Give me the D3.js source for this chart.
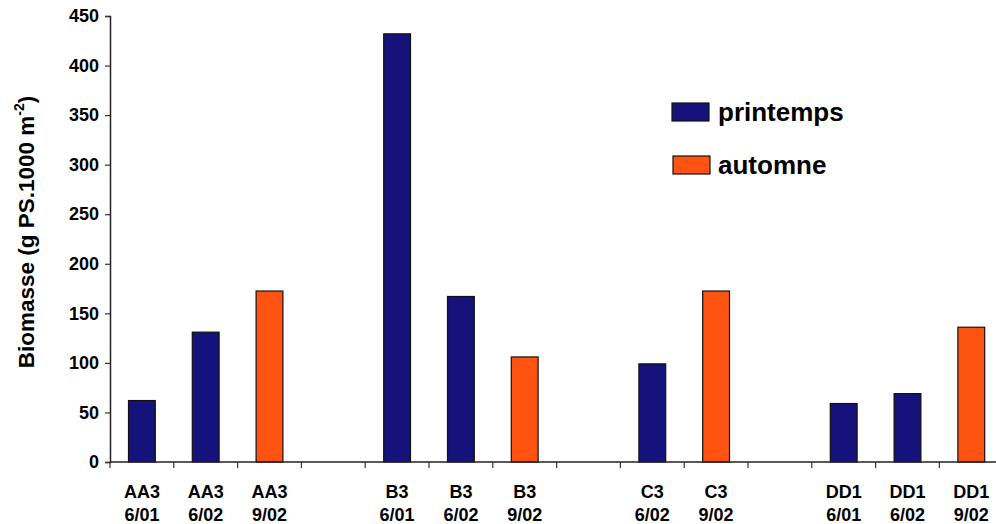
<!DOCTYPE html>
<html>
<head>
<meta charset="utf-8">
<script src="https://cdn.jsdelivr.net/npm/d3@7"></script>
<style>
  html, body { margin: 0; padding: 0; background: #fff; }
  svg { display: block; font-family: "Liberation Sans", Arial, sans-serif; }
</style>
</head>
<body>
<svg id="chart" width="996" height="524"></svg>
<script>
// ---- data ----
const sites  = ["AA3", "AA3", "AA3", "", "B3", "B3", "B3", "", "C3", "C3", "", "DD1", "DD1", "DD1"];
const dates  = ["6/01", "6/02", "9/02", "", "6/01", "6/02", "9/02", "", "6/02", "9/02", "", "6/01", "6/02", "9/02"];
const seasons = ["printemps", "printemps", "automne", null, "printemps", "printemps", "automne", null, "printemps", "automne", null, "printemps", "printemps", "automne"];
const values = [62, 131, 172.5, null, 432, 167, 106, null, 99, 172.5, null, 59, 69, 136];
const yTicks = [0, 50, 100, 150, 200, 250, 300, 350, 400, 450];
const legendLabels = ["printemps", "automne"];
const colors = { printemps: "#15127C", automne: "#FF5311" };

// ---- layout ----
const svg = d3.select("#chart");
const x0 = 110, slotW = 63.8;
const idx = d3.range(sites.length);
const x = d3.scaleBand().domain(idx).range([x0, x0 + slotW * idx.length]).padding(0);
const y = d3.scaleLinear().domain([0, 450]).range([462, 16]);
const barW = x.bandwidth() * 0.42;

// bars
svg.append("g").selectAll("rect")
  .data(idx.filter(i => values[i] != null))
  .join("rect")
  .attr("x", i => x(i) + (x.bandwidth() - barW) / 2)
  .attr("y", i => y(values[i]))
  .attr("width", barW)
  .attr("height", i => y(0) - y(values[i]))
  .attr("fill", i => colors[seasons[i]])
  .attr("stroke", "#111")
  .attr("stroke-width", 1.2);

// y axis
const yAxis = d3.axisLeft(y).tickValues(yTicks).tickSize(5).tickPadding(6).tickFormat(d3.format("d"));
const gy = svg.append("g").attr("transform", `translate(${x0},0)`).call(yAxis);
gy.select(".domain").attr("stroke", "#222").attr("stroke-width", 1.5);
gy.selectAll(".tick line").attr("stroke", "#333").attr("stroke-width", 1.2);
gy.selectAll(".tick text").attr("font-size", 18).attr("font-weight", "bold").attr("fill", "#000")
  .attr("font-family", "Liberation Sans, Arial, sans-serif");

// x axis (boundary ticks)
const xEdge = d3.scaleLinear().domain([0, idx.length]).range([x0, x0 + slotW * idx.length]);
const gx = svg.append("g").attr("transform", `translate(0,${y(0)})`);
gx.append("line").attr("x1", x0).attr("x2", 996).attr("stroke", "#222").attr("stroke-width", 1.5);
gx.selectAll(".bt").data(d3.range(idx.length + 1)).join("line")
  .attr("x1", d => xEdge(d)).attr("x2", d => xEdge(d))
  .attr("y1", 0).attr("y2", 6).attr("stroke", "#333").attr("stroke-width", 1.2);

// x labels
const xl = svg.append("g").attr("font-size", 18).attr("font-weight", "bold").attr("text-anchor", "middle");
xl.selectAll(".l1").data(idx.filter(i => sites[i])).join("text")
  .attr("x", i => x(i) + x.bandwidth() / 2).attr("y", 498).text(i => sites[i]);
xl.selectAll(".l2").data(idx.filter(i => dates[i])).join("text")
  .attr("x", i => x(i) + x.bandwidth() / 2).attr("y", 521).text(i => dates[i]);

// y title
const yt = svg.append("text")
  .attr("transform", "translate(34,232) rotate(-90)")
  .attr("text-anchor", "middle").attr("font-size", 22.5).attr("font-weight", "bold");
yt.append("tspan").text("Biomasse (g PS.1000 m");
yt.append("tspan").attr("font-size", 14).attr("dy", -10).text("-2");
yt.append("tspan").attr("dy", 10).text(")");

// legend
const lg = svg.append("g");
legendLabels.forEach((s, k) => {
  const cy = k === 0 ? 112 : 165;
  lg.append("rect").attr("x", k === 0 ? 672 : 673).attr("y", cy - 9).attr("width", 37).attr("height", 18)
    .attr("fill", colors[s]).attr("stroke", "#111").attr("stroke-width", 1.2);
  lg.append("text").attr("x", 718).attr("y", cy + 9).attr("font-size", 26).attr("font-weight", "bold").text(s);
});
</script>
</body>
</html>
